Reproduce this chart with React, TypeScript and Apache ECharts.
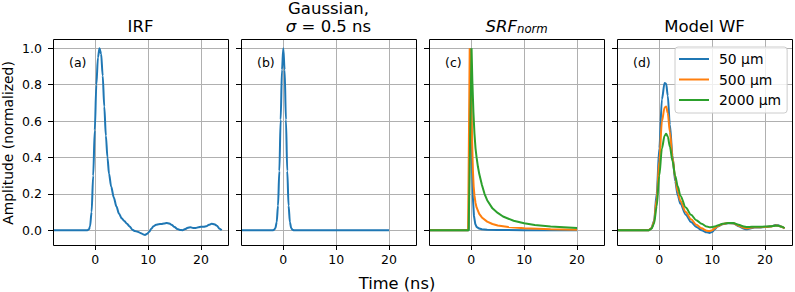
import React, { useEffect, useRef } from "react";
import * as echarts from "echarts";

// ---------- data ----------
const xTicks = [0, 10, 20];
const yTicks = [0, 0.2, 0.4, 0.6, 0.8, 1.0];
const panelTitles = ["IRF", "Gaussian,", "SRF", "Model WF"];
const panelTags = ["(a)", "(b)", "(c)", "(d)"];
const legendNames = ["50 µm", "500 µm", "2000 µm"];
const colors = ["#1f77b4", "#ff7f0e", "#2ca02c"];

// (a) IRF
const irfT = [-8, -1.5, -1.2, -1.0, -0.7, -0.4, -0.1, 0.2, 0.5, 0.8, 1.1, 1.4, 1.7, 2.0, 2.3, 2.6, 3.0, 3.5, 4.0, 4.5, 5.0, 5.5, 6.0, 6.5, 7.0, 7.5, 8.0, 8.5, 9.0, 9.4, 9.8, 10.2, 10.6, 11.0, 11.5, 12.0, 12.5, 13.0, 13.5, 14.0, 14.5, 15.0, 15.5, 16.0, 16.5, 17.0, 17.5, 18.0, 18.5, 19.0, 19.5, 20.0, 20.5, 21.0, 21.5, 22.0, 22.5, 23.0, 23.5, 23.9];
const irfY = [0, 0, 0.005, 0.02, 0.1, 0.3, 0.55, 0.8, 0.95, 1.0, 0.97, 0.85, 0.68, 0.52, 0.4, 0.31, 0.24, 0.18, 0.13, 0.09, 0.065, 0.05, 0.035, 0.02, 0.003, -0.005, -0.008, -0.015, -0.022, -0.026, -0.02, -0.008, 0.008, 0.022, 0.03, 0.033, 0.034, 0.037, 0.04, 0.037, 0.028, 0.017, 0.007, 0.001, 0.0, 0.006, 0.014, 0.016, 0.012, 0.012, 0.016, 0.019, 0.019, 0.022, 0.03, 0.035, 0.033, 0.025, 0.008, 0.0];

// (b) Gaussian, sigma = 0.5 ns
const gaussT = [-8, -2, -1.75, -1.5, -1.25, -1.0, -0.75, -0.5, -0.25, 0, 0.25, 0.5, 0.75, 1.0, 1.25, 1.5, 1.75, 2, 20];
const gaussY = [0, 0, 0.002, 0.011, 0.044, 0.135, 0.325, 0.607, 0.882, 1.0, 0.882, 0.607, 0.325, 0.135, 0.044, 0.011, 0.002, 0, 0];

// (c) SRF_norm
const srf50T = [-8, -0.5, -0.15, 0, 0.15, 0.3, 0.5, 0.75, 1.0, 1.5, 2, 3, 5, 10, 20];
const srf50Y = [0, 0, 1.0, 0.62, 0.35, 0.18, 0.08, 0.035, 0.018, 0.009, 0.005, 0.003, 0.001, 0.0, 0.0];
const srf500T = [-8, -0.6, -0.3, -0.1, 0, 0.15, 0.3, 0.45, 0.6, 0.8, 1.0, 1.5, 2, 3, 4, 5, 7, 10, 15, 20];
const srf500Y = [0, 0, 1.0, 0.8, 0.72, 0.5, 0.33, 0.24, 0.19, 0.15, 0.125, 0.09, 0.07, 0.047, 0.034, 0.026, 0.017, 0.01, 0.005, 0.003];
const srf2000T = [-8, -0.5, 0.05, 0.2, 0.4, 0.6, 0.8, 1.0, 1.25, 1.5, 2.0, 2.5, 3.0, 4.0, 5.0, 6, 8, 10, 12, 15, 20];
const srf2000Y = [0, 0, 1.0, 0.82, 0.65, 0.53, 0.45, 0.4, 0.35, 0.31, 0.25, 0.2, 0.165, 0.12, 0.095, 0.075, 0.052, 0.038, 0.028, 0.02, 0.012];

// (d) Model WF
const wfT = [-8, -2, -1.5, -1, -0.5, 0, 0.5, 1.0, 1.3, 1.6, 2, 2.5, 3, 3.5, 4, 5, 6, 7, 8, 9, 9.5, 10, 10.5, 11, 12, 13, 14, 15, 16, 16.5, 17, 18, 19, 20, 21, 22, 22.5, 23, 23.7];
const wf50Y = [0, 0, 0.01, 0.05, 0.2, 0.45, 0.72, 0.81, 0.805, 0.74, 0.58, 0.41, 0.27, 0.19, 0.145, 0.085, 0.045, 0.018, 0.0, -0.012, -0.015, -0.01, 0.005, 0.02, 0.033, 0.038, 0.037, 0.022, 0.008, 0.005, 0.008, 0.015, 0.015, 0.017, 0.02, 0.028, 0.027, 0.02, 0.01];
const wf500Y = [0, 0, 0.01, 0.045, 0.17, 0.38, 0.6, 0.675, 0.68, 0.645, 0.54, 0.4, 0.29, 0.21, 0.16, 0.1, 0.06, 0.03, 0.01, -0.003, -0.005, 0.0, 0.01, 0.022, 0.034, 0.039, 0.038, 0.025, 0.013, 0.01, 0.012, 0.016, 0.016, 0.018, 0.02, 0.026, 0.025, 0.02, 0.01];
const wf2000Y = [0, 0, 0.008, 0.035, 0.13, 0.3, 0.45, 0.52, 0.53, 0.515, 0.46, 0.38, 0.3, 0.24, 0.19, 0.125, 0.085, 0.055, 0.035, 0.02, 0.016, 0.017, 0.02, 0.026, 0.035, 0.04, 0.04, 0.03, 0.02, 0.018, 0.018, 0.019, 0.019, 0.02, 0.021, 0.025, 0.025, 0.02, 0.012];

const zip = (t: number[], y: number[]) => t.map((v, i) => [v, y[i]]);

const FONT = "DejaVu Sans";
const lefts = [53, 241, 429, 617];
const TOP = 39;
const W = 175;
const H = 206;

export default function App() {
  const ref = useRef<HTMLDivElement>(null);
  useEffect(() => {
    const chart = echarts.init(ref.current!, undefined, { renderer: "svg" });

    const grids = lefts.map((l) => ({
      left: l, top: TOP, width: W, height: H, show: false,
      containLabel: false, outerBoundsMode: "none",
    }));

    const xAxes = lefts.map((_, i) => ({
      type: "value", gridIndex: i, position: "bottom", min: -8, max: 25.1, minInterval: 10, maxInterval: 10,
      axisLine: { show: false, onZero: false },
      axisTick: { show: true, inside: false, length: 5, lineStyle: { color: "#000", width: 1 }, customValues: xTicks },
      axisLabel: {
        show: true, color: "#000", fontSize: 12.5, fontFamily: FONT, margin: 8,
        formatter: (v: number) => (xTicks.includes(v) ? String(v) : ""),
      },
      splitLine: { show: true, lineStyle: { color: "#b0b0b0", width: 1 } },
    }));

    const yAxes = lefts.map((_, i) => ({
      type: "value", gridIndex: i, position: "left", min: -0.0815, max: 1.0515, minInterval: 0.2, maxInterval: 0.2,
      axisLine: { show: false, onZero: false },
      axisTick: { show: true, inside: false, length: 5, lineStyle: { color: "#000", width: 1 }, customValues: yTicks },
      axisLabel: {
        show: i === 0, color: "#000", fontSize: 12.5, fontFamily: FONT, margin: 11,
        formatter: (v: number) => (yTicks.some((t) => Math.abs(t - v) < 1e-9) ? v.toFixed(1) : ""),
      },
      splitLine: { show: true, lineStyle: { color: "#b0b0b0", width: 1 } },
    }));

    const mk = (name: string, data: number[][], gi: number, color: string, smooth: number | boolean) => ({
      type: "line", name, data, xAxisIndex: gi, yAxisIndex: gi,
      showSymbol: false, symbol: "none", smooth, smoothMonotone: "x",
      lineStyle: { color, width: 2 }, itemStyle: { color }, clip: true, z: 3,
    });

    const series = [
      mk("IRF", zip(irfT, irfY), 0, colors[0], 0.3),
      mk("Gaussian", zip(gaussT, gaussY), 1, colors[0], 0.3),
      mk(legendNames[0], zip(srf50T, srf50Y), 2, colors[0], false),
      mk(legendNames[1], zip(srf500T, srf500Y), 2, colors[1], false),
      mk(legendNames[2], zip(srf2000T, srf2000Y), 2, colors[2], false),
      mk(legendNames[0], zip(wfT, wf50Y), 3, colors[0], 0.3),
      mk(legendNames[1], zip(wfT, wf500Y), 3, colors[1], 0.3),
      mk(legendNames[2], zip(wfT, wf2000Y), 3, colors[2], 0.3),
    ];

    const titleFont = `16.5px "${FONT}"`;
    const graphics: any[] = [];
    const centers = lefts.map((l) => l + W / 2);

    // axes frames on top of grid lines
    lefts.forEach((l) => {
      graphics.push({ type: "rect", z: 10, shape: { x: l + 0.5, y: TOP + 0.5, width: W, height: H }, style: { fill: "none", stroke: "#000", lineWidth: 1 }, silent: true });
    });

    graphics.push({ type: "text", x: centers[0], y: 26, style: { text: panelTitles[0], font: titleFont, fill: "#000", textAlign: "center", textVerticalAlign: "middle" } });
    graphics.push({ type: "text", x: centers[1], y: 8, style: { text: panelTitles[1], font: titleFont, fill: "#000", textAlign: "center", textVerticalAlign: "middle" } });
    graphics.push({
      type: "text", x: centers[1], y: 26,
      style: {
        text: "{i|σ}{n| = 0.5 ns}", fill: "#000", textAlign: "center", textVerticalAlign: "middle",
        rich: {
          i: { fontFamily: FONT, fontSize: 16.5, fontStyle: "italic", fill: "#000" },
          n: { fontFamily: FONT, fontSize: 16.5, fill: "#000" },
        },
      },
    });
    graphics.push({ type: "text", x: centers[2] + 0.5, y: 26, style: { text: panelTitles[2], font: `italic 16.5px "${FONT}"`, fill: "#000", textAlign: "right", textVerticalAlign: "middle" } });
    graphics.push({ type: "text", x: centers[2] + 0.5, y: 29, style: { text: "norm", font: `italic 11.7px "${FONT}"`, fill: "#000", textAlign: "left", textVerticalAlign: "middle" } });
    graphics.push({ type: "text", x: centers[3], y: 26, style: { text: panelTitles[3], font: titleFont, fill: "#000", textAlign: "center", textVerticalAlign: "middle" } });

    lefts.forEach((l, i) => {
      graphics.push({ type: "text", x: l + 16, y: 62, style: { text: panelTags[i], font: `12.5px "${FONT}"`, fill: "#000", textAlign: "left", textVerticalAlign: "middle" } });
    });

    graphics.push({ type: "text", x: 7.5, y: 143, rotation: Math.PI / 2, style: { text: "Amplitude (normalized)", font: `13.9px "${FONT}"`, fill: "#000", textAlign: "center", textVerticalAlign: "middle" } });
    graphics.push({ type: "text", x: 397, y: 283, style: { text: "Time (ns)", font: `16.3px "${FONT}"`, fill: "#000", textAlign: "center", textVerticalAlign: "middle" } });

    chart.setOption({
      animation: false,
      grid: grids,
      xAxis: xAxes,
      yAxis: yAxes,
      series,
      legend: {
        data: legendNames.map((n) => ({ name: n, icon: "rect" })), orient: "vertical", left: 675, top: 47, z: 12,
        itemWidth: 30, itemHeight: 2, itemGap: 6.5, padding: [5, 6, 6, 4],
        borderColor: "#cccccc", borderWidth: 1, borderRadius: 3,
        backgroundColor: "rgba(255,255,255,0.8)", selectedMode: false,
        textStyle: { fontSize: 13.9, fontFamily: FONT, color: "#000", lineHeight: 14, height: 14, padding: [0, 0, 0, 5] },
      },
      graphic: graphics,
    });
    return () => chart.dispose();
  }, []);
  return <div ref={ref} style={{ position: "fixed", left: 0, top: 0, width: 795, height: 292, background: "#fff" }} />;
}
